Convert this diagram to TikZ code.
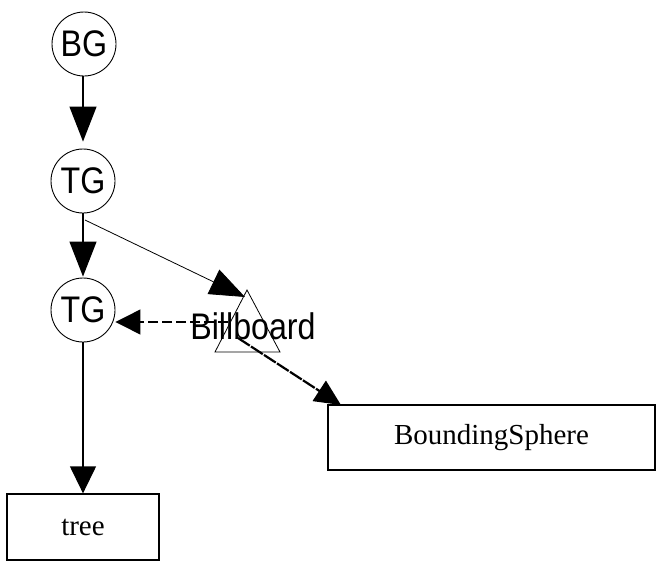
\documentclass[tikz,border=0pt]{standalone}
\usepackage{fontspec}
\setmainfont{Liberation Serif}
\newfontfamily\arialf{Liberation Sans}
\usetikzlibrary{arrows.meta}
\newcommand\condensed[1]{\scalebox{0.87}[1]{#1}}
\begin{document}
\begin{tikzpicture}[x=1pt,y=-1pt,
  circ/.style={draw, circle, minimum size=64pt, inner sep=0pt, line width=0.9pt,
    font=\arialf\fontsize{37}{40}\selectfont},
  box/.style={draw, line width=1.3pt, inner sep=0pt, font=\fontsize{29}{32}\selectfont},
  conn/.style={line width=1.3pt, -{Triangle[length=35pt,width=27pt]}},
  thinconn/.style={line width=0.8pt, -{Triangle[length=35pt,width=27pt]}},
  dashconn/.style={line width=1.2pt, dash pattern=on 10pt off 4pt, -{Triangle[length=25pt,width=25pt]}},
  thickconn/.style={line width=2.2pt, dash pattern=on 14pt off 1.5pt, -{Triangle[length=26pt,width=24pt]}},
  lbl/.style={inner sep=0pt, font=\arialf\fontsize{37}{40}\selectfont}]
\useasboundingbox (0,0) rectangle (656,560);

\node[circ] (bg)  at (84,44)  {\condensed{BG}};
\node[circ] (tg1) at (83,181) {\condensed{TG}};
\node[circ] (tg2) at (83,310) {\condensed{TG}};

% Billboard triangle
\coordinate (bbA) at (247,290);
\coordinate (bbL) at (215,352);
\coordinate (bbR) at (280,352);
\draw[line width=0.8pt] (bbA) -- (bbL) -- (bbR) -- cycle;
\node[lbl] (bb) at (253,326) {\condensed{Billboard}};
\coordinate (bbin) at (245,297);
\coordinate (bbd) at (228,322);
\coordinate (bbs) at (238,338);
\coordinate (t1o) at (85,220);

\node[box, minimum width=152pt, minimum height=66pt] (tree) at (83,527) {tree};
\node[box, minimum width=327pt, minimum height=65pt] (bs) at (491.5,437.5) {BoundingSphere};
\coordinate (bstip) at (341,405);

\draw[conn, shorten >=7pt] (bg.south -| tg1) -- (tg1.north);
\draw[conn, shorten >=1pt] (tg1.south) -- (tg2.north);
\draw[line width=1.3pt, -{Triangle[length=27pt,width=26pt]}] (tg2.south) -- (tree.north);
\draw[thinconn] (t1o) -- (bbin);
\draw[dashconn] (bbd) -- (bbd -| tg2.east);
\draw[thickconn] (bbs) -- (bstip);
\end{tikzpicture}
\end{document}
